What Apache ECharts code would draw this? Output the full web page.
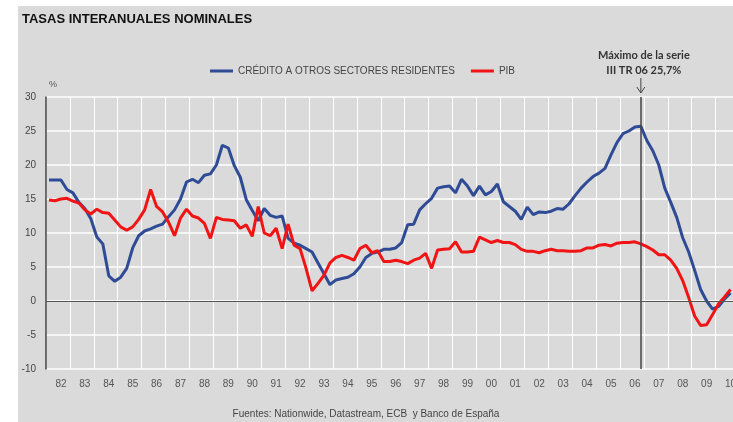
<!DOCTYPE html>
<html>
<head>
<meta charset="utf-8">
<title>Tasas interanuales nominales</title>
<script src="https://cdn.jsdelivr.net/npm/echarts@6/dist/echarts.min.js"></script>
<style>
  html, body { margin: 0; padding: 0; background: #fff; }
  #wrap { position: relative; width: 733px; height: 422px; overflow: hidden; }
  #panel { position: absolute; left: 18px; top: 6px; width: 715px; height: 416px; background: #dadada; }
  /* un poco más ancho que la ventana: el gráfico original corta el año 10 */
  #main { position: absolute; left: 0; top: 0; width: 745px; height: 422px; }
</style>
</head>
<body>
<div id="wrap">
  <div id="panel"></div>
  <div id="main"></div>
</div>
<script>
// etiquetas del eje horizontal
const years = ['82', '83', '84', '85', '86', '87', '88', '89', '90', '91', '92', '93', '94', '95',
  '96', '97', '98', '99', '00', '01', '02', '03', '04', '05', '06', '07', '08', '09', '10'];

// trimestres (el primer punto es IV TR 81)
const romanos = ['I', 'II', 'III', 'IV'];
const quarters = [];
for (let i = 0; i < years.length * 4; i++) {
  const q = (i + 3) % 4;
  const y = (81 + Math.floor((i + 3) / 4)) % 100;
  quarters.push(romanos[q] + ' TR ' + String(y).padStart(2, '0'));
}

// crédito a otros sectores residentes, % interanual
const credito = [
  17.8, 17.8, 17.8, 16.4, 15.9, 14.5, 13.6, 12.1, 9.4, 8.4, 3.7, 2.9,
  3.5, 4.8, 7.8, 9.6, 10.3, 10.6, 11.0, 11.3, 12.4, 13.4, 15.0, 17.5,
  17.9, 17.4, 18.5, 18.7, 20.0, 22.9, 22.5, 19.9, 18.2, 14.9, 13.3, 11.8,
  13.6, 12.6, 12.3, 12.5, 9.2, 8.5, 8.2, 7.7, 7.2, 5.6, 4.0, 2.4,
  3.1, 3.3, 3.5, 4.0, 5.0, 6.4, 7.0, 7.2, 7.6, 7.6, 7.8, 8.6,
  11.2, 11.3, 13.4, 14.3, 15.1, 16.6, 16.8, 16.9, 15.9, 17.9, 16.9,
  15.5, 16.9, 15.6, 16.1, 17.2, 14.6, 13.9, 13.2, 12.0, 13.8, 12.7,
  13.1, 13.0, 13.2, 13.6, 13.5, 14.3, 15.5, 16.6, 17.5, 18.3,
  18.8, 19.5, 21.5, 23.3, 24.6, 25.0, 25.6, 25.7, 23.6, 22.1, 20.0, 16.6,
  14.5, 12.3, 9.3, 7.2, 4.5, 1.7, 0.0, -1.2, -0.8, 0.3, 1.2
];

// PIB nominal, % interanual
const pib = [
  14.85, 14.75, 15.0, 15.1, 14.7, 14.4, 13.4, 12.8, 13.5, 13.0, 12.9, 11.9,
  10.9, 10.4, 10.9, 12.0, 13.4, 16.4, 13.9, 13.1, 11.6, 9.6, 12.2, 13.5,
  12.5, 12.2, 11.4, 9.2, 12.3, 12.0, 11.9, 11.8, 10.7, 11.2, 9.5, 13.9,
  10.0, 9.6, 10.7, 7.7, 11.3, 8.2, 7.7, 4.8, 1.5, 2.6, 3.8, 5.6,
  6.4, 6.7, 6.4, 6.0, 7.7, 8.2, 7.1, 7.4, 5.8, 5.8, 6.0, 5.8,
  5.5, 6.0, 6.3, 7.0, 4.8, 7.5, 7.6, 7.7, 8.7, 7.2, 7.2,
  7.3, 9.4, 9.0, 8.6, 8.9, 8.6, 8.6, 8.3, 7.6, 7.3, 7.3,
  7.1, 7.4, 7.6, 7.4, 7.4, 7.3, 7.3, 7.4, 7.8, 7.8,
  8.2, 8.3, 8.1, 8.5, 8.6, 8.6, 8.7, 8.4, 8.0, 7.5, 6.8, 6.8,
  6.0, 4.8, 3.0, 0.5, -2.2, -3.6, -3.5, -2.0, -0.4, 0.6, 1.7
];

const maximo = 'III TR 06';

const chart = echarts.init(document.getElementById('main'));

const option = {
  animation: false,
  backgroundColor: 'transparent',
  textStyle: { fontFamily: 'Liberation Sans, Arial, sans-serif' },
  title: {
    text: 'TASAS INTERANUALES NOMINALES',
    left: 17,
    top: 8,
    textStyle: { fontSize: 13, fontWeight: 'bold', color: '#111' }
  },
  legend: {
    left: 205,
    top: 61,
    icon: 'rect',
    itemWidth: 23,
    itemHeight: 3,
    itemGap: 16,
    textStyle: { color: '#444', fontSize: 10 },
    data: ['CRÉDITO A OTROS SECTORES RESIDENTES', 'PIB']
  },
  grid: { left: 46, top: 97, width: 693.5, height: 272 },
  xAxis: [
    {
      type: 'category',
      data: years,
      boundaryGap: true,
      axisLine: { show: false },
      axisTick: { show: false },
      axisLabel: { interval: 0, color: '#555', fontSize: 10, margin: 10, padding: [0, 0, 0, 6] },
      splitLine: { show: true, interval: 0, lineStyle: { color: '#fff', width: 1 } }
    },
    {
      type: 'category',
      data: quarters,
      boundaryGap: true,
      show: false
    }
  ],
  yAxis: {
    type: 'value',
    min: -10,
    max: 30,
    interval: 5,
    axisLine: { show: true, lineStyle: { color: '#444', width: 1.5 } },
    axisTick: { show: false },
    axisLabel: { color: '#444', fontSize: 10, margin: 10 },
    splitLine: { lineStyle: { color: '#fff', width: 1.5 } }
  },
  series: [
    {
      name: 'CRÉDITO A OTROS SECTORES RESIDENTES',
      type: 'line',
      xAxisIndex: 1,
      data: credito,
      symbol: 'none',
      color: '#2f4b96',
      lineStyle: { width: 3 },
      markLine: {
        silent: true,
        symbol: 'none',
        label: { show: false },
        lineStyle: { color: '#444', width: 1.5, type: 'solid' },
        data: [{ xAxis: maximo }]
      }
    },
    {
      name: 'PIB',
      type: 'line',
      xAxisIndex: 1,
      data: pib,
      symbol: 'none',
      color: '#f01414',
      lineStyle: { width: 3 },
      markLine: {
        silent: true,
        symbol: 'none',
        label: { show: false },
        lineStyle: { color: '#555', width: 1.2, type: 'solid' },
        data: [{ yAxis: 0 }]
      }
    }
  ]
};
chart.setOption(option);

// anotación del máximo
const mx = chart.convertToPixel({ xAxisIndex: 1 }, maximo);
chart.setOption({
  graphic: [
    {
      type: 'text', left: 49, top: 80,
      style: { text: '%', fontSize: 9, fill: '#555', fontFamily: 'Liberation Sans' }
    },
    {
      type: 'text', x: mx + 3, y: 55.5,
      style: { text: 'Máximo de la serie', fontSize: 11, fontWeight: 'bold', fill: '#333',
        fontFamily: 'Lato', align: 'center', verticalAlign: 'middle' }
    },
    {
      type: 'text', x: mx + 3, y: 70.5,
      style: { text: 'III TR 06 25,7%', fontSize: 11, fontWeight: 'bold', fill: '#333',
        fontFamily: 'Lato', align: 'center', verticalAlign: 'middle' }
    },
    {
      type: 'line',
      shape: { x1: mx, y1: 78, x2: mx, y2: 93 },
      style: { stroke: '#444', lineWidth: 1 }
    },
    {
      type: 'polyline',
      shape: { points: [[mx - 4, 87], [mx, 93], [mx + 4, 87]] },
      style: { stroke: '#444', lineWidth: 1, fill: null }
    },
    {
      type: 'text', x: 366, y: 414,
      style: { text: 'Fuentes: Nationwide, Datastream, ECB  y Banco de España', fontSize: 10,
        fill: '#444', fontFamily: 'Liberation Sans', align: 'center', verticalAlign: 'middle' }
    }
  ]
});
</script>
</body>
</html>
